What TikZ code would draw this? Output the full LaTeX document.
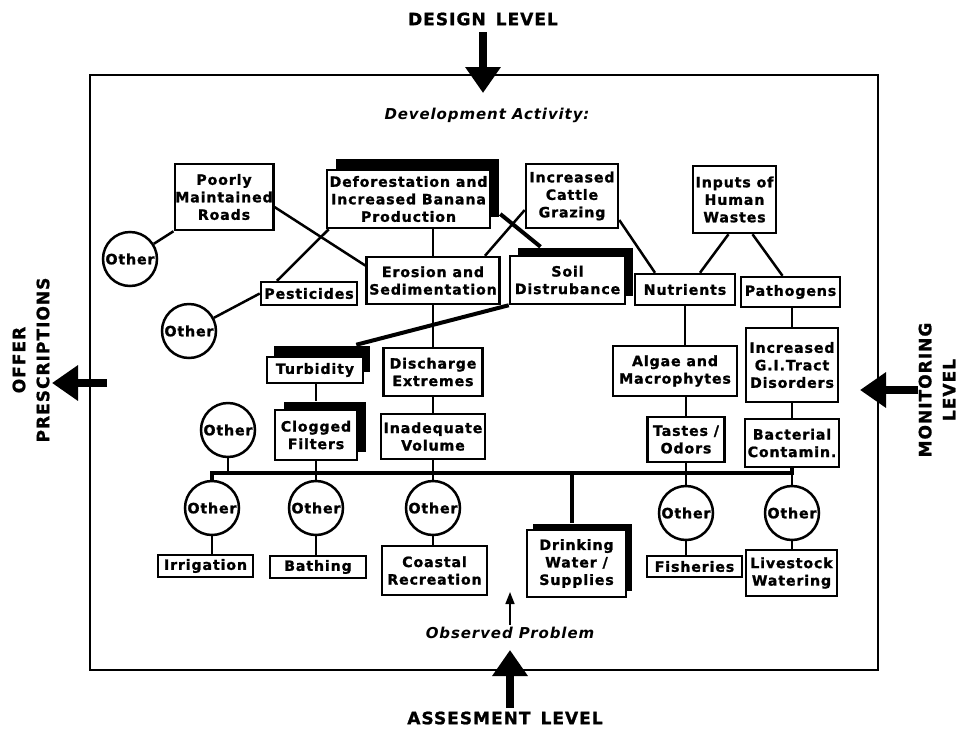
\documentclass[tikz,border=0pt]{standalone}
\usepackage{fontspec}
\setmainfont{DejaVu Sans}
\newfontfamily\bx[LetterSpace=6, BoldFeatures={FakeBold=1.2}]{DejaVu Sans}
\usetikzlibrary{arrows.meta,shadows}
\newcommand\boxfont{\bx\bfseries\fontsize{14.2}{17.5}\selectfont}
\newcommand\lblfont{\bx\bfseries\fontsize{17}{24}\selectfont}
\newcommand\itfont{\bx\bfseries\itshape\fontsize{15}{18}\selectfont}
\begin{document}
\begin{tikzpicture}[x=1pt,y=-1pt,
  box/.style={draw, line width=2.5pt, fill=white, align=center, inner sep=0.5pt, font=\boxfont},
  circ/.style={draw, circle, line width=2.5pt, fill=white, minimum size=54pt, inner sep=0pt, font=\boxfont},
  sh/.style 2 args={drop shadow={shadow xshift=#1pt, shadow yshift=#2pt, fill=black, opacity=1}},
  conn/.style={line width=2.5pt},
  heavy/.style={line width=4pt},
  bus/.style={line width=3.2pt},
  lbl/.style={font=\lblfont, align=center, inner sep=0pt},
  bigarrow/.style={line width=8pt, -{Triangle[width=34pt,length=26pt]}},
]
\useasboundingbox (0,0) rectangle (962,729);

% frame
\node[draw, line width=2.2pt, minimum width=788pt, minimum height=595pt, inner sep=0pt] (frame) at (484,372.5) {};

% level labels
\node[lbl] (design) at (483,19) {DESIGN\hspace{10pt}LEVEL};
\node[lbl] (assess) at (505,718) {ASSESMENT\hspace{10pt}LEVEL};
\node[lbl, rotate=90] (offer) at (31,360) {OFFER\\PRESCRIPTIONS};
\node[lbl, rotate=90] (monitor) at (937,390) {MONITORING\\LEVEL};
\node[font=\itfont, inner sep=0pt] (devact) at (487,115) {Development Activity:};
\node[font=\itfont, inner sep=0pt] (obs) at (510,633) {Observed Problem};

\coordinate (dtip) at (483,93);
\coordinate (dstart) at (483,32);
\coordinate (atip) at (510,650);
\coordinate (astart) at (510,708);
\coordinate (ltip) at (52,383);
\coordinate (lstart) at (107,383);
\coordinate (rtip) at (860,390);
\coordinate (rstart) at (918,390);
\coordinate (otip) at (510,592);
\draw[bigarrow] (dstart) -- (dtip);
\draw[bigarrow] (astart) -- (atip);
\draw[bigarrow] (lstart) -- (ltip);
\draw[bigarrow] (rstart) -- (rtip);
\draw[line width=1.5pt, -{Triangle[width=9pt,length=12pt]}] ([yshift=2pt]obs.north) -- (otip);

% development activities
\node[box, minimum width=98pt, minimum height=66pt] (roads) at (224,197) {Poorly\\Maintained\\Roads};
\node[box, sh={9}{11}, minimum width=163pt, minimum height=58pt] (defo) at (408.5,199) {Deforestation and\\Increased Banana\\Production};
\node[box, minimum width=92pt, minimum height=64pt] (cattle) at (572,196) {Increased\\Cattle\\Grazing};
\node[box, minimum width=83pt, minimum height=67pt] (human) at (734.5,199.5) {Inputs of\\Human\\Wastes};

% second tier
\node[box, minimum width=133pt, minimum height=47pt] (erosion) at (433,280.5) {Erosion and\\Sedimentation};
\node[box, minimum width=96pt, minimum height=23pt] (pest) at (309,293.5) {Pesticides};
\node[box, sh={8}{8}, minimum width=115pt, minimum height=48pt] (soil) at (567.5,280) {Soil\\Distrubance};
\node[box, minimum width=100pt, minimum height=31pt] (nutr) at (685,289.5) {Nutrients};
\node[box, minimum width=99pt, minimum height=30pt] (path) at (790.5,292) {Pathogens};

% third tier
\node[box, sh={7}{11}, minimum width=96pt, minimum height=26pt] (turb) at (315,370) {Turbidity};
\node[box, minimum width=99pt, minimum height=48pt] (disch) at (433,372) {Discharge\\Extremes};
\node[box, minimum width=124pt, minimum height=50pt] (algae) at (675,371) {Algae and\\Macrophytes};
\node[box, minimum width=92pt, minimum height=74pt] (gi) at (792,365) {Increased\\G.I.Tract\\Disorders};

% fourth tier
\node[box, sh={9}{8}, minimum width=82pt, minimum height=50pt] (clog) at (316,435) {Clogged\\Filters};
\node[box, minimum width=104pt, minimum height=45pt] (inad) at (433,436.5) {Inadequate\\Volume};
\node[box, minimum width=77pt, minimum height=45pt] (taste) at (686,439.5) {Tastes /\\Odors};
\node[box, minimum width=94pt, minimum height=48pt] (bact) at (792,443) {Bacterial\\Contamin.};

% uses
\node[box, minimum width=95pt, minimum height=22pt] (irr) at (205.5,566) {Irrigation};
\node[box, minimum width=96pt, minimum height=22pt] (bath) at (318,567) {Bathing};
\node[box, minimum width=105pt, minimum height=49pt] (coast) at (434.5,570.5) {Coastal\\Recreation};
\node[box, sh={6}{6}, minimum width=99pt, minimum height=67pt] (drink) at (576.5,563.5) {Drinking\\Water /\\Supplies};
\node[box, minimum width=95pt, minimum height=21pt] (fish) at (694.5,566.5) {Fisheries};
\node[box, minimum width=91pt, minimum height=46pt] (live) at (791.5,573) {Livestock\\Watering};

% other circles
\node[circ] (o1) at (130,259) {Other};
\node[circ] (o2) at (189,331) {Other};
\node[circ] (o3) at (228,430) {Other};
\node[circ] (o4) at (212,508) {Other};
\node[circ] (o5) at (316,508) {Other};
\node[circ] (o6) at (433,508) {Other};
\node[circ] (o7) at (686,513) {Other};
\node[circ] (o8) at (792,513) {Other};

% connectors, upper part
\draw[conn] (roads.south west) -- (o1);
\draw[conn] ([yshift=-10pt]roads.east) -- ([yshift=15pt]erosion.west);
\draw[conn] ([xshift=3pt]defo.south west) -- ([xshift=-32pt]pest.north);
\draw[conn] (erosion.north) -- (erosion.north |- defo.south);
\draw[heavy] ([xshift=9pt,yshift=-15pt]defo.east) -- ([xshift=-27pt,yshift=8pt]soil.north);
\draw[conn] ([yshift=-14pt]cattle.west) -- ([xshift=52pt]erosion.north);
\draw[conn] ([yshift=-24pt]cattle.east) -- ([xshift=-30pt]nutr.north);
\draw[conn] ([xshift=-6pt]human.south) -- ([xshift=15pt]nutr.north);
\draw[conn] ([xshift=18pt]human.south) -- ([xshift=-8pt]path.north);
\draw[conn] (pest.west) -- (o2);
\draw[heavy] (soil.south west) -- ([xshift=-8pt,yshift=11pt]turb.north east);
\draw[conn] (erosion.south) -- (disch.north);
\draw[conn] (nutr.south) -- (nutr.south |- algae.north);
\draw[conn] (gi.north) -- (gi.north |- path.south);
\draw[conn] ([yshift=8pt]clog.north) -- (clog.north |- turb.south);
\draw[conn] (disch.south) -- (inad.north);
\draw[conn] (taste.north) -- (taste.north |- algae.south);
\draw[conn] (bact.north) -- (bact.north |- gi.south);

% bus
\coordinate (busL) at (212,473);
\coordinate (busR) at (792,473);
\draw[bus] (o4.north) -- (busL) -- (busR) -- (bact.south);
\draw[conn] (o3.south) -- (o3.south |- busL);
\draw[conn] (clog.south) -- (o5.north);
\draw[conn] (inad.south) -- (o6.north);
\draw[conn] (taste.south) -- (o7.north);
\draw[conn] (o8.north) -- (o8.north |- busL);
\draw[heavy] ([xshift=-5pt]drink.north |- busL) -- ([xshift=-5pt,yshift=6pt]drink.north);

% circles to uses
\draw[conn] (o4.south) -- (o4.south |- irr.north);
\draw[conn] (o5.south) -- (o5.south |- bath.north);
\draw[conn] (o6.south) -- (o6.south |- coast.north);
\draw[conn] (o7.south) -- (o7.south |- fish.north);
\draw[conn] (o8.south) -- (o8.south |- live.north);
\end{tikzpicture}
\end{document}
